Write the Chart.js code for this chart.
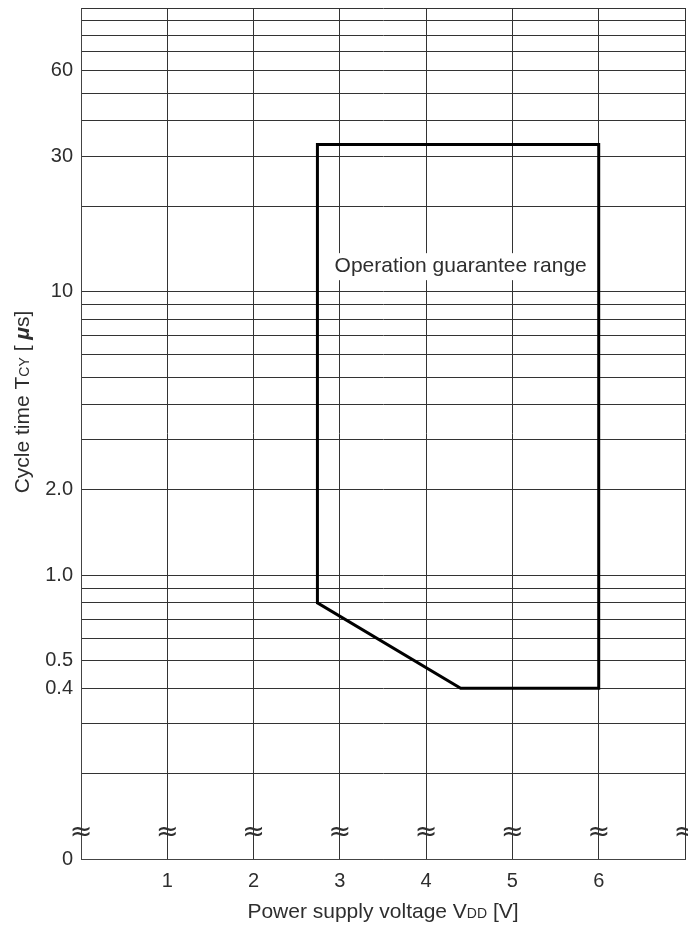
<!DOCTYPE html>
<html>
<head>
<meta charset="utf-8">
<script src="https://cdn.jsdelivr.net/npm/chart.js@4.4.0/dist/chart.umd.min.js"></script>
<style>
  html, body { margin: 0; padding: 0; background: #fff; }
  #wrap { width: 688px; height: 926px; }
</style>
</head>
<body>
<div id="wrap"><canvas id="c" width="688" height="926"></canvas></div>
<script>
// ---- data ----
const polyX = [2.74, 6.0, 6.0, 4.4, 2.74, 2.74];
const polyY = [33, 33, 0.4, 0.4, 0.8, 33];
const xTickValues = [1, 2, 3, 4, 5, 6];
const xGridMin = 0, xGridMax = 7;
const yGridValues = [0.1, 0.2, 0.3, 0.4, 0.5, 0.6, 0.7, 0.8, 0.9,
                     1, 2, 3, 4, 5, 6, 7, 8, 9,
                     10, 20, 30, 40, 50, 60, 70, 80, 90, 100];
const yLabelValues = [0.1, 0.4, 0.5, 1, 2, 10, 30, 60];
const yLabelTexts  = ['0', '0.4', '0.5', '1.0', '2.0', '10', '30', '60'];
const breakY = 0.124;
const breakXs = [0, 1, 2, 3, 4, 5, 6, 7];
const regionLabel = 'Operation guarantee range';
const regionLabelPos = { x: 4.4, y: 12.3 };

const FONT = '"Liberation Sans", Arial, Helvetica, sans-serif';
const TXT = '#2e2e2e';
Chart.defaults.font.family = FONT;
Chart.defaults.color = TXT;

const decor = {
  id: 'decor',
  afterDatasetsDraw(chart) {
    const { ctx, scales: { x, y } } = chart;
    ctx.save();
    // break marks
    ctx.font = '27px "DejaVu Sans", sans-serif';
    ctx.textAlign = 'center';
    ctx.textBaseline = 'middle';
    ctx.fillStyle = TXT;
    const by = y.getPixelForValue(breakY);
    breakXs.forEach(v => ctx.fillText('\u2248', x.getPixelForValue(v), by));
    // region label
    ctx.font = '21px ' + FONT;
    const lx = x.getPixelForValue(regionLabelPos.x);
    const ly = y.getPixelForValue(regionLabelPos.y);
    const w = ctx.measureText(regionLabel).width;
    ctx.fillStyle = '#fff';
    ctx.fillRect(lx - w / 2 - 3, ly - 13, w + 6, 27);
    ctx.fillStyle = TXT;
    ctx.fillText(regionLabel, lx, ly);
    ctx.restore();
  },
  afterDraw(chart) {
    const { ctx, chartArea } = chart;
    ctx.save();
    ctx.fillStyle = TXT;
    ctx.textBaseline = 'alphabetic';
    ctx.textAlign = 'left';
    const big = '21px ' + FONT, small = '14px ' + FONT;
    const drawRun = (parts, cx, cy) => {
      let total = 0;
      parts.forEach(p => { ctx.font = p[1]; total += ctx.measureText(p[0]).width; });
      let xx = cx - total / 2;
      parts.forEach(p => { ctx.font = p[1]; ctx.fillText(p[0], xx, cy); xx += ctx.measureText(p[0]).width; });
    };
    // x title
    drawRun([['Power supply voltage V', big], ['DD', small], [' [V]', big]],
            (chartArea.left + chartArea.right) / 2, 918);
    // y title (rotated)
    ctx.translate(29, 402);
    ctx.rotate(-Math.PI / 2);
    drawRun([['Cycle time T', big], ['CY', small], [' [ ', big],
             ['\u03bc', 'italic bold 21px ' + FONT], ['s]', big]], 0, 0);
    ctx.restore();
  }
};

new Chart(document.getElementById('c'), {
  type: 'scatter',
  data: {
    datasets: [{
      data: polyX.map((v, i) => ({ x: v, y: polyY[i] })),
      showLine: true,
      borderColor: '#000',
      borderWidth: 3,
      pointRadius: 0,
      tension: 0,
      fill: false,
      borderCapStyle: 'square',
      borderJoinStyle: 'miter'
    }]
  },
  options: {
    responsive: false,
    animation: false,
    layout: { padding: { top: 8, right: 3, left: 0, bottom: 0 } },
    plugins: { legend: { display: false }, tooltip: { enabled: false } },
    scales: {
      x: {
        type: 'linear',
        min: xGridMin, max: xGridMax,
        afterFit(s) { s.height = 67; s.paddingLeft = 0; s.paddingRight = 0; },
        afterBuildTicks(s) {
          const t = [];
          for (let v = xGridMin; v <= xGridMax; v++) t.push({ value: v });
          s.ticks = t;
        },
        ticks: {
          autoSkip: false, maxRotation: 0, padding: 10,
          font: { size: 20 }, color: TXT,
          callback: v => xTickValues.includes(v) ? String(v) : ''
        },
        grid: { color: '#333', lineWidth: 1, drawTicks: false },
        border: { display: true, color: '#444', width: 1 }
      },
      y: {
        type: 'logarithmic',
        min: yGridValues[0], max: yGridValues[yGridValues.length - 1],
        afterFit(s) { s.width = 81; s.paddingTop = 0; s.paddingBottom = 0; },
        afterBuildTicks(s) { s.ticks = yGridValues.map(v => ({ value: v })); },
        ticks: {
          autoSkip: false, padding: 8,
          font: { size: 20 }, color: TXT,
          callback: v => {
            const i = yLabelValues.findIndex(u => Math.abs(u - v) < 1e-9);
            return i >= 0 ? yLabelTexts[i] : '';
          }
        },
        grid: { color: '#333', lineWidth: 1, drawTicks: false },
        border: { display: true, color: '#444', width: 1 }
      }
    }
  },
  plugins: [decor]
});
</script>
</body>
</html>
